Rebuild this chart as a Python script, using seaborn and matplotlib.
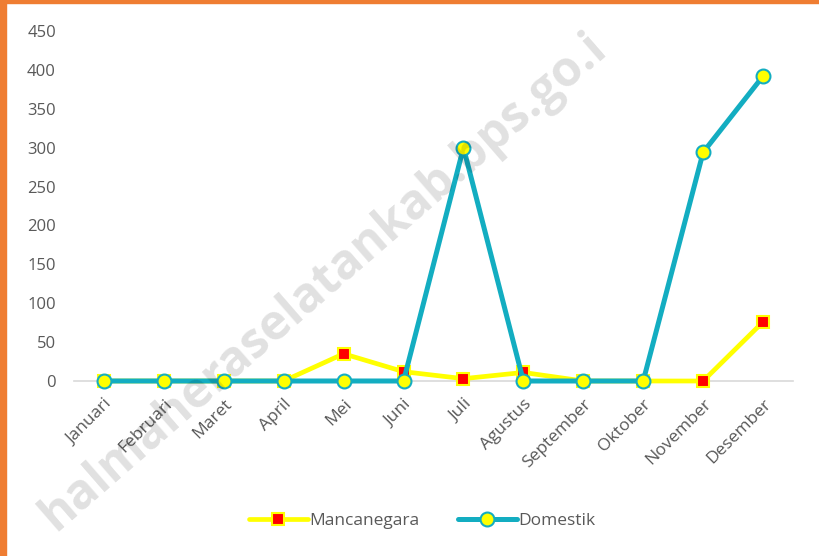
import pandas as pd
import seaborn as sns
import matplotlib.pyplot as plt
from matplotlib.patches import Rectangle

# Data
bulan = ['Januari', 'Februari', 'Maret', 'April', 'Mei', 'Juni', 'Juli',
         'Agustus', 'September', 'Oktober', 'November', 'Desember']
mancanegara = [0, 0, 0, 0, 35, 12, 3, 11, 0, 0, 0, 76]
domestik = [0, 0, 0, 0, 0, 0, 300, 0, 0, 0, 294, 392]
yticks = [0, 50, 100, 150, 200, 250, 300, 350, 400, 450]

df = pd.DataFrame({'Bulan': bulan, 'Mancanegara': mancanegara, 'Domestik': domestik})

sns.set_style('white')
plt.rcParams['font.family'] = ['Open Sans', 'DejaVu Sans']

fig = plt.figure(figsize=(8.19, 5.56), dpi=100)
ax = fig.add_axes([74 / 819, 1 - 381 / 556, (793 - 74) / 819, 350 / 556])

teal = '#13adc1'
grey_txt = '#595959'

sns.lineplot(data=df, x='Bulan', y='Mancanegara', ax=ax, sort=False,
             color='#ffff00', linewidth=3.4, marker='s', markersize=9,
             markerfacecolor='#ff0000', markeredgecolor='#ffff00', markeredgewidth=1.5,
             label='Mancanegara', clip_on=False, zorder=3)
sns.lineplot(data=df, x='Bulan', y='Domestik', ax=ax, sort=False,
             color=teal, linewidth=3.6, marker='o', markersize=10,
             markerfacecolor='#ffff00', markeredgecolor=teal, markeredgewidth=1.5,
             label='Domestik', clip_on=False, zorder=4)

ax.set_xlim(-0.5, len(bulan) - 0.5)
ax.set_ylim(0, 450)
ax.set_yticks(yticks)
ax.set_xlabel('')
ax.set_ylabel('')
for s in ['top', 'right', 'left']:
    ax.spines[s].set_visible(False)
ax.spines['bottom'].set_color('#d9d9d9')
ax.spines['bottom'].set_linewidth(1.2)
ax.spines['bottom'].set_zorder(1)
ax.tick_params(axis='y', length=0, pad=13, labelsize=12, labelcolor=grey_txt)
ax.tick_params(axis='x', length=0, pad=11, labelsize=12.5, labelcolor=grey_txt)
plt.setp(ax.get_xticklabels(), rotation=45, ha='right', rotation_mode='anchor')

ax.get_legend().remove()
h, l = ax.get_legend_handles_labels()
fig.legend(h, l, loc='center', bbox_to_anchor=(422 / 819, 1 - 521 / 556), ncol=2,
           frameon=False, fontsize=12.5, labelcolor=grey_txt, handlelength=3.4,
           handletextpad=0.1, columnspacing=2.2)

# watermark
fig.text(0.395, 0.493, 'halmaheraselatankab.bps.go.i', rotation=41,
         ha='center', va='center', fontsize=35, fontweight='bold',
         color='black', alpha=0.12, zorder=10)

# orange border
fig.patches.append(Rectangle((0, 0), 6 / 819, 1, transform=fig.transFigure,
                             color='#ef7d32', zorder=20))
fig.patches.append(Rectangle((0, 1 - 3 / 556), 1, 3 / 556, transform=fig.transFigure,
                             color='#ef7d32', zorder=20))

fig.savefig('out.png', dpi=100)
